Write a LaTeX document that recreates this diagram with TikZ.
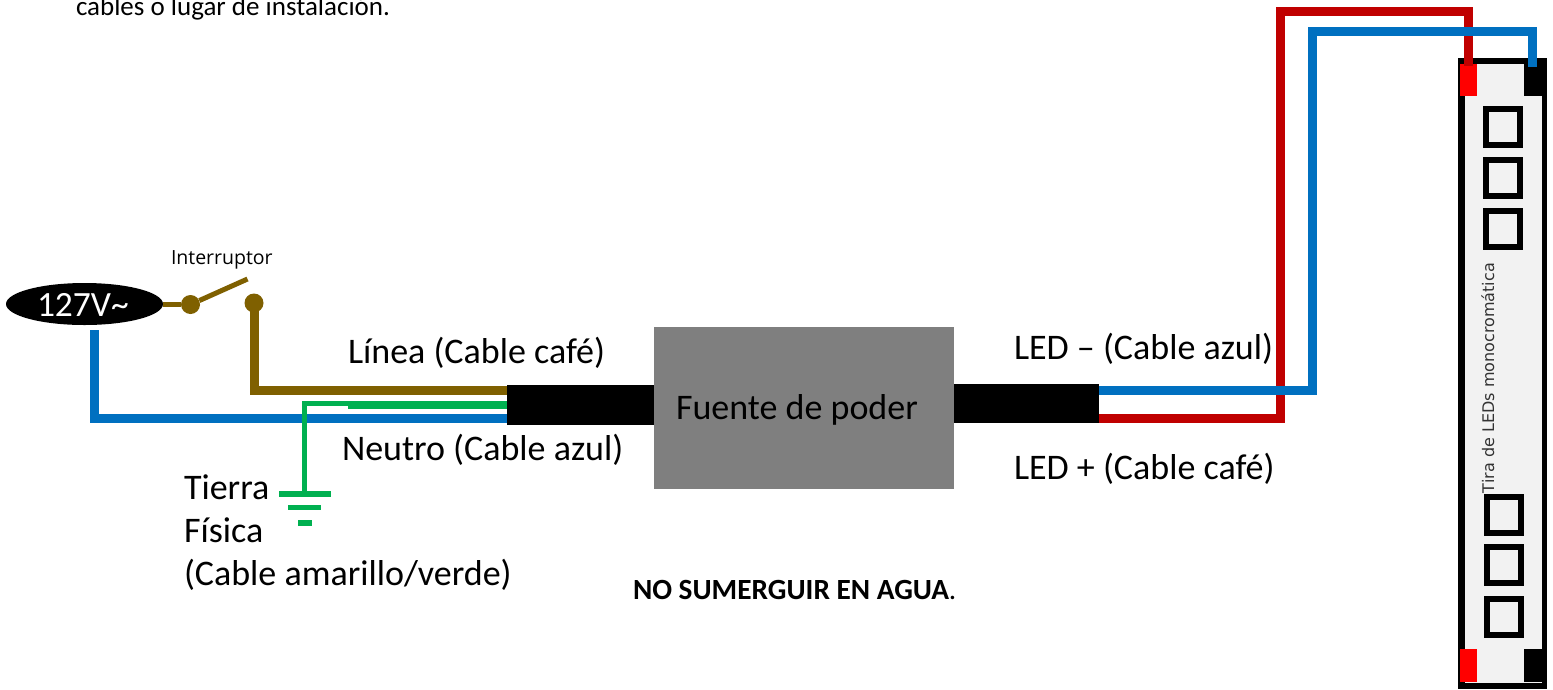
\documentclass[tikz,border=0pt]{standalone}
\usetikzlibrary{shapes.geometric}
\usepackage{fontspec}
\setmainfont{Carlito}
\newfontfamily\uifont{Open Sans}
\newfontfamily\vfont{DejaVu Sans}
\definecolor{cafe}{HTML}{7F6000}
\definecolor{azul}{HTML}{0070C0}
\definecolor{verde}{HTML}{00B050}
\definecolor{rojo}{HTML}{C00000}
\definecolor{grisb}{HTML}{7F7F7F}
\definecolor{tira}{HTML}{F2F2F2}
\newcommand{\fs}[1]{\fontsize{#1}{#1}\selectfont}
\tikzset{
  x=1pt,y=-1pt,
  blok/.style={inner sep=0pt,outer sep=0pt,draw=none,rectangle},
  wire/.style={line width=#1,line cap=butt,line join=miter},
  lab/.style={inner sep=0pt,outer sep=0pt,anchor=base west,font=\fs{36}},
  led/.style={blok,draw=black,line width=6pt,fill=tira,minimum width=34pt,minimum height=36pt},
  dot/.style={circle,fill=cafe,inner sep=0pt,minimum size=19pt},
  bar/.style={blok,fill=verde}
}
\begin{document}
\begin{tikzpicture}
\useasboundingbox (0,0) rectangle (1553,689);
\clip (0,0) rectangle (1553,689);
\fill[white] (0,0) rectangle (1553,689);
% top cropped text
\node[lab,font=\fs{27}] (nota) at (76,15) {cables o lugar de instalación.};
% source and switch
\node[ellipse,fill=black,inner sep=0pt,minimum width=157pt,minimum height=42pt] (src) at (84.5,304) {};
\node[lab,text=white,font=\fs{35.5}] (srct) at (37,316) {127V\char`~};
\node[dot] (swa) at (190.5,304.5) {};
\node[dot] (swb) at (254,303) {};
\node[lab,font=\uifont\fs{19.5}] (intt) at (171,264) {Interruptor};
\coordinate (armend) at (247.5,279);
\draw[wire=5.5pt,cafe] (src.east |- swa) -- (swa);
\draw[wire=5pt,cafe] (swa) -- (armend);
% blocks
\node[blok,fill=grisb,minimum width=300pt,minimum height=162pt] (psu) at (804,408) {};
\node[blok,fill=black,minimum width=147pt,minimum height=40pt] (cabl) at (580.5,404.5) {};
\node[blok,fill=black,minimum width=145pt,minimum height=39pt] (cabr) at (1026.5,403.5) {};
% input wires
\coordinate (linein) at (cabl.west |- 0,390.5);
\coordinate (neuin) at (cabl.west |- 0,418.5);
\coordinate (neutop) at (94,330);
\draw[wire=9pt,cafe] (swb.center) |- (linein);
\draw[wire=9pt,azul] (neutop) |- (neuin);
% ground
\node[bar,minimum width=51.5pt,minimum height=6pt] (gnda) at (305,494) {};
\node[bar,minimum width=33pt,minimum height=5pt] (gndb) at (304.5,507.5) {};
\node[bar,minimum width=14.5pt,minimum height=5.5pt] (gndc) at (304.8,523) {};
\coordinate (gtop) at (304.6,403.5);
\coordinate (gmid) at (348,403.5);
\coordinate (gthk) at (348,405.2);
\coordinate (gend) at (cabl.west |- 0,405.2);
\draw[wire=5pt,verde] (gnda.north -| gtop) -- (gtop) -- (gmid);
\draw[wire=8.5pt,verde] (gthk) -- (gend);
% strip
\node[blok,fill=black,minimum width=89pt,minimum height=631pt,anchor=north west] (strip) at (1458,58) {};
\node[blok,fill=tira,minimum width=77pt,minimum height=619pt,anchor=north west] (stripin) at (1464.5,64) {};
\node[blok,fill=red,minimum width=16.5pt,minimum height=32pt,anchor=north west] (rta) at (1460,64) {};
\node[blok,fill=black,minimum width=23pt,minimum height=32pt,anchor=north west] (bta) at (1524,64) {};
\node[blok,fill=red,minimum width=16.5pt,minimum height=33pt,anchor=north west] (rtb) at (1460,649) {};
\node[blok,fill=black,minimum width=17.5pt,minimum height=33pt,anchor=north west] (btb) at (1524,649) {};
\foreach \n/\yy in {a/127,b/178,c/229}{\node[led] (led\n) at (1503,\yy) {};}
\foreach \n/\yy in {d/514.5,e/565,f/616.5}{\node[led] (led\n) at (1503.5,\yy) {};}
\node[inner sep=0pt,outer sep=0pt,rotate=90,anchor=base west,font=\vfont\fs{16},text=black!80] (tirat) at (1494,493) {Tira de LEDs monocromática};
% output wires
\coordinate (redout) at (cabr.east |- 0,418.7);
\coordinate (blueout) at (cabr.east |- 0,390);
\coordinate (redtop) at (1280.5,11);
\coordinate (redend) at (1468.5,66);
\coordinate (bluetop) at (1312.5,31);
\coordinate (blueend) at (1532,67);
\draw[wire=9pt,rojo] (redout) -| (redtop) -| (redend);
\draw[wire=9pt,azul] (blueout) -| (bluetop) -| (blueend);
% labels
\node[lab] (linea) at (348,363) {Línea (Cable café)};
\node[lab] (neutro) at (342,460) {Neutro (Cable azul)};
\node[lab] (tierra) at (184,499) {Tierra};
\node[lab] (fisica) at (184,542) {Física};
\node[lab] (amar) at (184,585) {(Cable amarillo/verde)};
\node[lab] (fuente) at (676,419) {Fuente de poder};
\node[lab] (ledm) at (1014,359) {LED – (Cable azul)};
\node[lab] (ledp) at (1014,479) {LED + (Cable café)};
\node[lab,font=\fs{29.3}] (agua) at (633,599) {\textbf{NO SUMERGUIR EN AGUA}.};
\end{tikzpicture}
\end{document}
